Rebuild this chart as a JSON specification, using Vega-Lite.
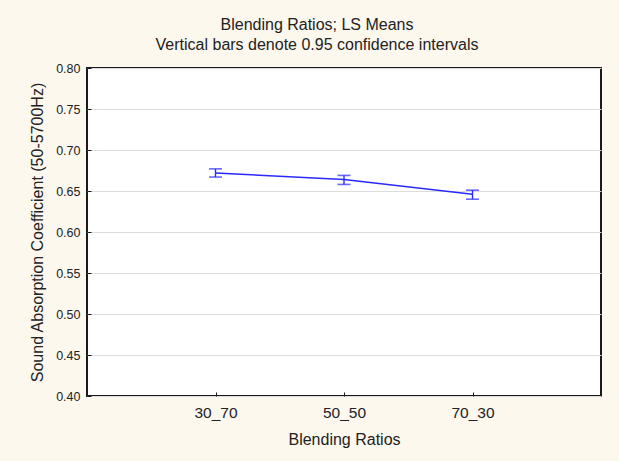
{
  "$schema": "https://vega.github.io/schema/vega-lite/v6.json",
  "width": 514,
  "height": 328,
  "autosize": {"type": "none"},
  "padding": {"left": 87, "top": 68, "right": 18, "bottom": 65},
  "background": "#fdf8ee",
  "title": {
    "text": ["Blending Ratios; LS Means", "Vertical bars denote 0.95 confidence intervals"],
    "font": "Liberation Sans",
    "fontSize": 16,
    "fontWeight": "normal",
    "color": "#222222",
    "anchor": "middle",
    "dx": -27,
    "offset": 9,
    "lineHeight": 20
  },
  "config": {
    "view": {"stroke": "#1a1a1a", "strokeWidth": 2, "fill": "white"},
    "axis": {
      "labelFont": "Liberation Sans",
      "titleFont": "Liberation Sans",
      "labelColor": "#222222",
      "titleColor": "#222222",
      "titleFontWeight": "normal",
      "gridColor": "#dcdcdc",
      "gridWidth": 1,
      "domain": false,
      "tickColor": "#1a1a1a",
      "tickSize": -4
    }
  },
  "data": {
    "values": [
      {"ratio": "30_70", "mean": 0.672, "lo": 0.667, "hi": 0.677},
      {"ratio": "50_50", "mean": 0.664, "lo": 0.658, "hi": 0.669},
      {"ratio": "70_30", "mean": 0.646, "lo": 0.640, "hi": 0.651}
    ]
  },
  "encoding": {
    "x": {
      "field": "ratio",
      "type": "ordinal",
      "scale": {"type": "point", "padding": 1},
      "axis": {
        "title": "Blending Ratios",
        "labelAngle": 0,
        "labelFontSize": 15.5,
        "titleFontSize": 16,
        "labelPadding": 13.5,
        "titlePadding": 10
      }
    }
  },
  "layer": [
    {
      "mark": {"type": "line", "color": "#2a2aff", "strokeWidth": 1.5},
      "encoding": {
        "y": {
          "field": "mean",
          "type": "quantitative",
          "scale": {"domain": [0.4, 0.8], "nice": false, "zero": false},
          "axis": {
            "title": "Sound Absorption Coefficient (50-5700Hz)",
            "values": [0.4, 0.45, 0.5, 0.55, 0.6, 0.65, 0.7, 0.75, 0.8],
            "format": ".2f",
            "labelFontSize": 12.5,
            "titleFontSize": 16,
            "labelPadding": 11,
            "titlePadding": 10
          }
        }
      }
    },
    {
      "mark": {"type": "rule", "color": "#2a2aff", "strokeWidth": 1.4},
      "encoding": {
        "y": {"field": "lo", "type": "quantitative"},
        "y2": {"field": "hi"}
      }
    },
    {
      "mark": {"type": "tick", "color": "#2a2aff", "thickness": 1.6, "size": 13, "orient": "horizontal"},
      "encoding": {"y": {"field": "lo", "type": "quantitative"}}
    },
    {
      "mark": {"type": "tick", "color": "#2a2aff", "thickness": 1.6, "size": 13, "orient": "horizontal"},
      "encoding": {"y": {"field": "hi", "type": "quantitative"}}
    }
  ]
}
